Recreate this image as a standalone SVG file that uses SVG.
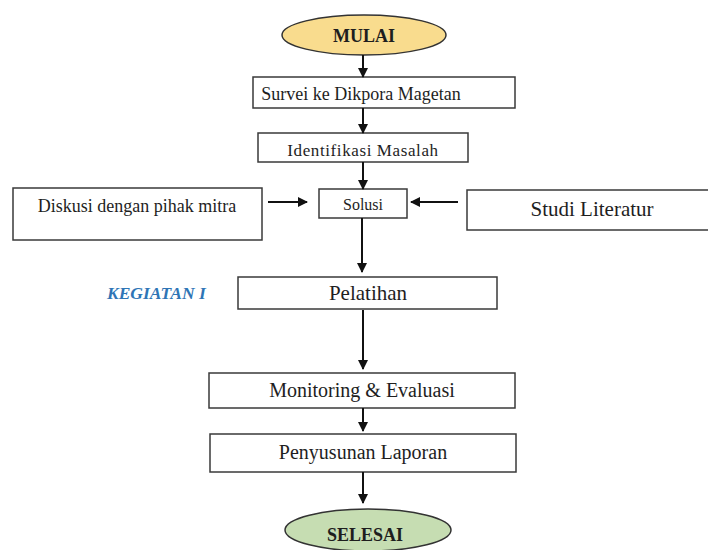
<svg xmlns="http://www.w3.org/2000/svg" width="708" height="550" viewBox="0 0 708 550">
<defs>
<style>
.box{fill:#fff;stroke:#3a3a3a;stroke-width:1.5}
.t{font-family:"Liberation Serif","Times New Roman",serif;fill:#1e1e1e;text-anchor:middle}
.b{font-weight:bold}
.edge{stroke:#111;stroke-width:2;fill:none;marker-end:url(#ah)}
</style>
<marker id="ah" viewBox="0 0 10 10" refX="9" refY="5" markerWidth="5" markerHeight="5" orient="auto" markerUnits="strokeWidth">
<path d="M0,0 L10,5 L0,10 z" fill="#111"/>
</marker>
</defs>
<rect width="708" height="550" fill="#fff"/>
<g id="mulai">
<ellipse cx="364" cy="35" rx="82" ry="20" fill="#f9dc8e" stroke="#333" stroke-width="1.5"/>
<text class="t b" x="364" y="42" font-size="18">MULAI</text>
</g>
<g id="survei">
<rect class="box" x="253" y="77" width="262" height="31"/>
<text class="t" x="361" y="100" font-size="18">Survei ke Dikpora Magetan</text>
</g>
<g id="identifikasi">
<rect class="box" x="258" y="133" width="210" height="29"/>
<text class="t" x="363" y="156" font-size="17" letter-spacing="0.6">Identifikasi Masalah</text>
</g>
<g id="diskusi">
<rect class="box" x="13" y="188" width="249" height="52"/>
<text class="t" x="137" y="212" font-size="18">Diskusi dengan pihak mitra</text>
</g>
<g id="solusi">
<rect class="box" x="319" y="189" width="88" height="29"/>
<text class="t" x="363" y="210" font-size="16">Solusi</text>
</g>
<g id="studi">
<rect class="box" x="467" y="190" width="245" height="40"/>
<text class="t" x="592" y="216" font-size="21">Studi Literatur</text>
</g>
<g id="kegiatan">
<text x="107" y="299" font-family="'Liberation Serif','Times New Roman',serif" font-size="17.5" font-weight="bold" font-style="italic" fill="#2e75b6">KEGIATAN I</text>
</g>
<g id="pelatihan">
<rect class="box" x="238" y="277" width="259" height="32"/>
<text class="t" x="368" y="300" font-size="21">Pelatihan</text>
</g>
<g id="monitoring">
<rect class="box" x="209" y="373" width="306" height="35"/>
<text class="t" x="362" y="397" font-size="20">Monitoring &amp; Evaluasi</text>
</g>
<g id="penyusunan">
<rect class="box" x="210" y="434" width="306" height="38"/>
<text class="t" x="363" y="459" font-size="20">Penyusunan Laporan</text>
</g>
<g id="selesai">
<ellipse cx="368" cy="530" rx="83" ry="21" fill="#c6ddb2" stroke="#333" stroke-width="1.5"/>
<text class="t b" x="365" y="541" font-size="18">SELESAI</text>
</g>
<g id="connectors">
<line class="edge" x1="363" y1="55" x2="363" y2="77"/>
<line class="edge" x1="363" y1="108" x2="363" y2="133"/>
<line class="edge" x1="363" y1="162" x2="363" y2="189"/>
<line class="edge" x1="268" y1="202" x2="307" y2="202"/>
<line class="edge" x1="458" y1="202" x2="411" y2="202"/>
<line class="edge" x1="362" y1="218" x2="362" y2="272"/>
<line class="edge" x1="363" y1="310" x2="363" y2="369"/>
<line class="edge" x1="363" y1="408" x2="363" y2="431"/>
<line class="edge" x1="363" y1="472" x2="363" y2="503"/>
</g>
</svg>
